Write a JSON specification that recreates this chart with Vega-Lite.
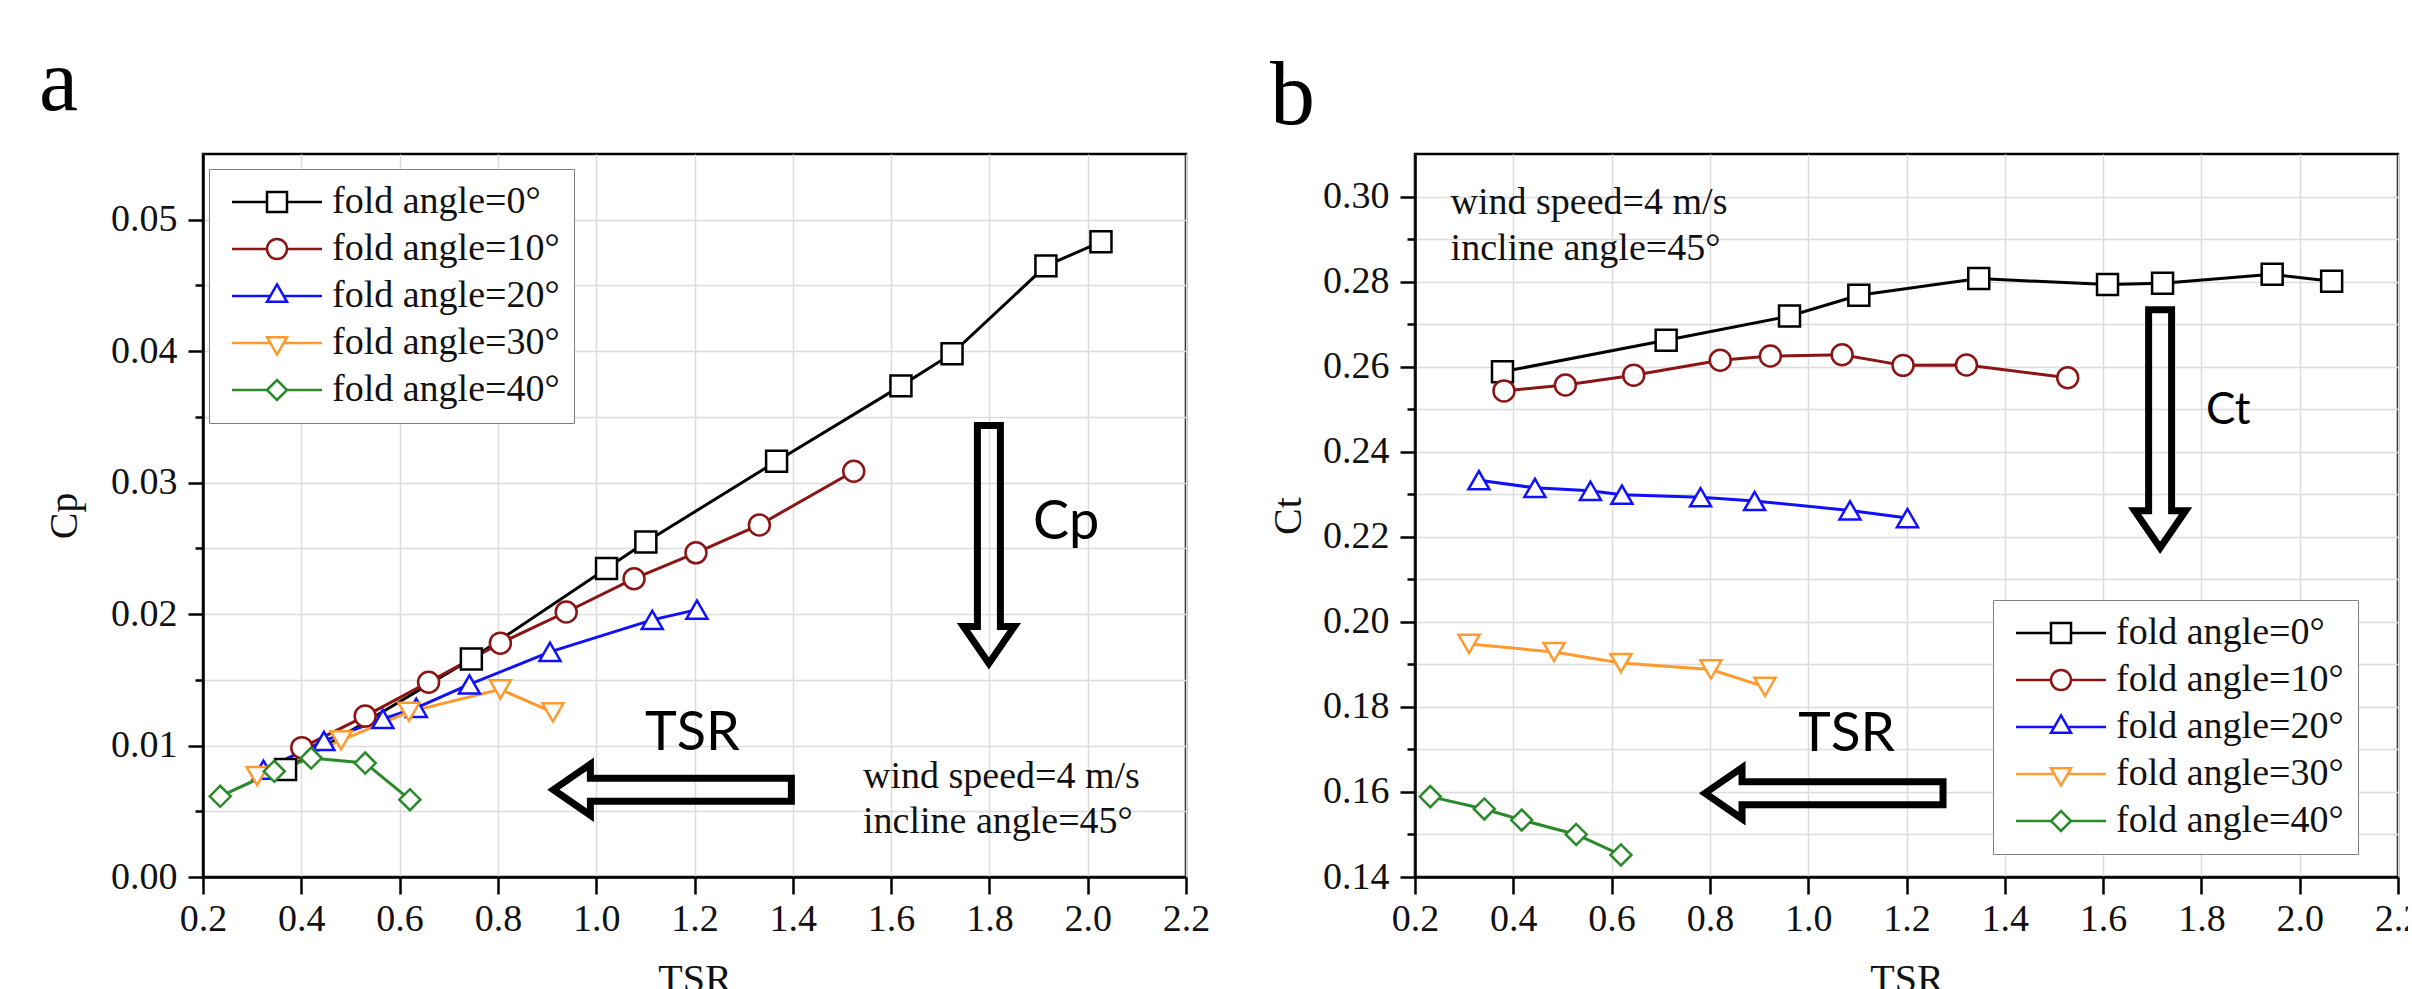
{
  "$schema": "https://vega.github.io/schema/vega-lite/v6.json",
  "background": "white",
  "padding": {"left": 37, "top": 38, "right": -15, "bottom": -10},
  "datasets": {
    "cp": [
      {"series": "fold angle=0°", "tsr": 0.368, "cp": 0.00817},
      {"series": "fold angle=0°", "tsr": 0.746, "cp": 0.01659},
      {"series": "fold angle=0°", "tsr": 1.021, "cp": 0.02346},
      {"series": "fold angle=0°", "tsr": 1.101, "cp": 0.02548},
      {"series": "fold angle=0°", "tsr": 1.367, "cp": 0.03163},
      {"series": "fold angle=0°", "tsr": 1.62, "cp": 0.03736},
      {"series": "fold angle=0°", "tsr": 1.724, "cp": 0.03981},
      {"series": "fold angle=0°", "tsr": 1.915, "cp": 0.04649},
      {"series": "fold angle=0°", "tsr": 2.027, "cp": 0.04832},
      {"series": "fold angle=10°", "tsr": 0.401, "cp": 0.00984},
      {"series": "fold angle=10°", "tsr": 0.53, "cp": 0.01224},
      {"series": "fold angle=10°", "tsr": 0.659, "cp": 0.01482},
      {"series": "fold angle=10°", "tsr": 0.805, "cp": 0.01779},
      {"series": "fold angle=10°", "tsr": 0.939, "cp": 0.02016},
      {"series": "fold angle=10°", "tsr": 1.077, "cp": 0.02269},
      {"series": "fold angle=10°", "tsr": 1.203, "cp": 0.02466},
      {"series": "fold angle=10°", "tsr": 1.332, "cp": 0.02678},
      {"series": "fold angle=10°", "tsr": 1.524, "cp": 0.03087},
      {"series": "fold angle=20°", "tsr": 0.323, "cp": 0.00816},
      {"series": "fold angle=20°", "tsr": 0.446, "cp": 0.01035},
      {"series": "fold angle=20°", "tsr": 0.566, "cp": 0.01202},
      {"series": "fold angle=20°", "tsr": 0.634, "cp": 0.01287},
      {"series": "fold angle=20°", "tsr": 0.742, "cp": 0.01465},
      {"series": "fold angle=20°", "tsr": 0.906, "cp": 0.01713},
      {"series": "fold angle=20°", "tsr": 1.114, "cp": 0.01956},
      {"series": "fold angle=20°", "tsr": 1.205, "cp": 0.02034},
      {"series": "fold angle=30°", "tsr": 0.31, "cp": 0.00768},
      {"series": "fold angle=30°", "tsr": 0.481, "cp": 0.0104},
      {"series": "fold angle=30°", "tsr": 0.619, "cp": 0.01256},
      {"series": "fold angle=30°", "tsr": 0.805, "cp": 0.01427},
      {"series": "fold angle=30°", "tsr": 0.912, "cp": 0.01252},
      {"series": "fold angle=40°", "tsr": 0.235, "cp": 0.00614},
      {"series": "fold angle=40°", "tsr": 0.345, "cp": 0.00804},
      {"series": "fold angle=40°", "tsr": 0.42, "cp": 0.00905},
      {"series": "fold angle=40°", "tsr": 0.53, "cp": 0.00867},
      {"series": "fold angle=40°", "tsr": 0.621, "cp": 0.00588}
    ],
    "ct": [
      {"series": "fold angle=0°", "tsr": 0.378, "ct": 0.2588},
      {"series": "fold angle=0°", "tsr": 0.711, "ct": 0.2662},
      {"series": "fold angle=0°", "tsr": 0.962, "ct": 0.2719},
      {"series": "fold angle=0°", "tsr": 1.103, "ct": 0.2768},
      {"series": "fold angle=0°", "tsr": 1.347, "ct": 0.2807},
      {"series": "fold angle=0°", "tsr": 1.609, "ct": 0.2793},
      {"series": "fold angle=0°", "tsr": 1.721, "ct": 0.2796},
      {"series": "fold angle=0°", "tsr": 1.944, "ct": 0.2817},
      {"series": "fold angle=0°", "tsr": 2.065, "ct": 0.2801},
      {"series": "fold angle=10°", "tsr": 0.381, "ct": 0.2543},
      {"series": "fold angle=10°", "tsr": 0.506, "ct": 0.2557},
      {"series": "fold angle=10°", "tsr": 0.645, "ct": 0.258},
      {"series": "fold angle=10°", "tsr": 0.821, "ct": 0.2615},
      {"series": "fold angle=10°", "tsr": 0.923, "ct": 0.2625},
      {"series": "fold angle=10°", "tsr": 1.069, "ct": 0.2628},
      {"series": "fold angle=10°", "tsr": 1.193, "ct": 0.2603},
      {"series": "fold angle=10°", "tsr": 1.322, "ct": 0.2604},
      {"series": "fold angle=10°", "tsr": 1.528, "ct": 0.2574},
      {"series": "fold angle=20°", "tsr": 0.33, "ct": 0.2333},
      {"series": "fold angle=20°", "tsr": 0.444, "ct": 0.2315},
      {"series": "fold angle=20°", "tsr": 0.557, "ct": 0.2308},
      {"series": "fold angle=20°", "tsr": 0.621, "ct": 0.2299},
      {"series": "fold angle=20°", "tsr": 0.781, "ct": 0.2293},
      {"series": "fold angle=20°", "tsr": 0.891, "ct": 0.2284},
      {"series": "fold angle=20°", "tsr": 1.085, "ct": 0.2262},
      {"series": "fold angle=20°", "tsr": 1.202, "ct": 0.2244},
      {"series": "fold angle=30°", "tsr": 0.31, "ct": 0.1948},
      {"series": "fold angle=30°", "tsr": 0.483, "ct": 0.1929},
      {"series": "fold angle=30°", "tsr": 0.619, "ct": 0.1903},
      {"series": "fold angle=30°", "tsr": 0.802, "ct": 0.1888},
      {"series": "fold angle=30°", "tsr": 0.912, "ct": 0.1847},
      {"series": "fold angle=40°", "tsr": 0.231, "ct": 0.1589},
      {"series": "fold angle=40°", "tsr": 0.341, "ct": 0.156},
      {"series": "fold angle=40°", "tsr": 0.417, "ct": 0.1534},
      {"series": "fold angle=40°", "tsr": 0.528, "ct": 0.15},
      {"series": "fold angle=40°", "tsr": 0.619, "ct": 0.1452}
    ],
    "noteA": [
      {"tsr": 1.5428, "cp": 0.00677, "label": "wind speed=4 m/s"},
      {"tsr": 1.5428, "cp": 0.00335, "label": "incline angle=45°"}
    ],
    "sansA": [
      {"tsr": 1.0993, "cp": 0.00968, "label": "TSR"},
      {"tsr": 1.8887, "cp": 0.02571, "label": "Cp"}
    ],
    "arrowA": [
      {"tsr": 1.799, "cp": 0.0253, "dir": "down"},
      {"tsr": 1.155, "cp": 0.00664, "dir": "left"}
    ],
    "noteB": [
      {"tsr": 0.2724, "ct": 0.2958, "label": "wind speed=4 m/s"},
      {"tsr": 0.2724, "ct": 0.2851, "label": "incline angle=45°"}
    ],
    "sansB": [
      {"tsr": 0.98, "ct": 0.1696, "label": "TSR"}
    ],
    "sansB2": [
      {"tsr": 1.8094, "ct": 0.2466, "label": "Ct"}
    ],
    "arrowB": [
      {"tsr": 1.716, "ct": 0.2454, "dir": "down"},
      {"tsr": 1.0322, "ct": 0.1597, "dir": "left"}
    ]
  },
  "hconcat": [
    {
      "width": 983,
      "height": 723,
      "title": {"text": "a", "anchor": "start", "frame": "group", "dx": -164, "offset": -44, "fontSize": 88, "font": "Liberation Serif", "fontWeight": "normal", "baseline": "alphabetic", "color": "black"},
      "resolve": {"scale": {"shape": "independent"}},
      "layer": [
        {
          "data": {"name": "cp"},
          "mark": {"type": "line", "strokeWidth": 3},
          "encoding": {
            "x": {"field": "tsr", "type": "quantitative", "scale": {"domain": [0.2, 2.2], "nice": false, "zero": false},
              "axis": {"title": "TSR", "values": [0.2, 0.4, 0.6, 0.8, 1.0, 1.2, 1.4, 1.6, 1.8, 2.0, 2.2], "format": ".1f", "tickSize": 17, "labelPadding": 6, "titlePadding": 21, "grid": true}},
            "y": {"field": "cp", "type": "quantitative", "scale": {"domain": [0, 0.055], "nice": false, "zero": false},
              "axis": {"title": "Cp", "titlePadding": 26, "grid": true, "labelPadding": 11,
                "values": [0, 0.005, 0.01, 0.015, 0.02, 0.025, 0.03, 0.035, 0.04, 0.045, 0.05],
                "labelExpr": "abs(datum.value*100 - round(datum.value*100)) < 0.001 ? format(datum.value, '.2f') : ''",
                "tickSize": {"condition": {"test": "abs(datum.value*100 - round(datum.value*100)) < 0.001", "value": 15}, "value": 8}}},
            "color": {"field": "series", "type": "nominal",
              "scale": {"domain": ["fold angle=0°", "fold angle=10°", "fold angle=20°", "fold angle=30°", "fold angle=40°"], "range": ["#000000", "#8b1414", "#1010ff", "#ff9a2e", "#2a8a2a"]},
              "legend": {"orient": "none", "legendX": 6, "legendY": 15, "title": null, "labelFont": "Liberation Serif", "labelFontSize": 38, "labelColor": "#111111", "labelLimit": 500,
                "symbolSize": 400, "symbolStrokeWidth": 2.5, "labelOffset": 71, "rowPadding": 9, "padding": 14, "strokeColor": "#808080", "fillColor": "white",
                "encoding": {"symbols": {
                  "fill": {"value": "white"},
                  "opacity": {"value": 1},
                  "shape": {"condition": [
                    {"test": "datum.value === 'fold angle=0°'", "value": "M-1,0H2.5M4.5,0H8M2.5,-1H4.5V1H2.5Z"},
                    {"test": "datum.value === 'fold angle=10°'", "value": "M-1,0H2.5M4.5,0H8M4.5,0A1,1,0,1,1,2.5,0A1,1,0,1,1,4.5,0Z"},
                    {"test": "datum.value === 'fold angle=20°'", "value": "M-1,0H2.833M4.167,0H8M3.5,-1.155L4.5,0.577L2.5,0.577Z"},
                    {"test": "datum.value === 'fold angle=30°'", "value": "M-1,0H2.833M4.167,0H8M3.5,1.155L4.5,-0.577L2.5,-0.577Z"}
                  ], "value": "M-1,0H2.5M4.5,0H8M2.5,0L3.5,-1L4.5,0L3.5,1Z"}
                }}}}
          }
        },
        {
          "data": {"name": "cp"},
          "mark": {"type": "point", "filled": true, "fill": "white", "strokeWidth": 2.5, "size": 440, "opacity": 1},
          "encoding": {
            "x": {"field": "tsr", "type": "quantitative"},
            "y": {"field": "cp", "type": "quantitative"},
            "stroke": {"field": "series", "type": "nominal",
              "scale": {"domain": ["fold angle=0°", "fold angle=10°", "fold angle=20°", "fold angle=30°", "fold angle=40°"], "range": ["#000000", "#8b1414", "#1010ff", "#ff9a2e", "#2a8a2a"]}, "legend": null},
            "shape": {"field": "series", "type": "nominal",
              "scale": {"domain": ["fold angle=0°", "fold angle=10°", "fold angle=20°", "fold angle=30°", "fold angle=40°"], "range": ["square", "circle", "triangle-up", "triangle-down", "diamond"]}, "legend": null}
          }
        },
        {
          "data": {"name": "arrowA"},
          "mark": {"type": "point", "filled": false, "stroke": "black", "strokeWidth": 7, "size": 56644, "opacity": 1, "strokeJoin": "miter", "strokeMiterLimit": 10},
          "encoding": {
            "x": {"field": "tsr", "type": "quantitative"},
            "y": {"field": "cp", "type": "quantitative"},
            "shape": {"field": "dir", "type": "nominal", "legend": null,
              "scale": {"domain": ["down", "left"], "range": ["M-0.0966,-1L0.0966,-1L0.0966,0.689L0.2143,0.689L0,1L-0.2143,0.689L-0.0966,0.689Z", "M1,-0.0966L1,0.0966L-0.689,0.0966L-0.689,0.2143L-1,0L-0.689,-0.2143L-0.689,-0.0966Z"]}}
          }
        },
        {
          "data": {"name": "noteA"},
          "mark": {"type": "text", "align": "left", "baseline": "alphabetic", "font": "Liberation Serif", "fontSize": 38, "color": "#111111"},
          "encoding": {
            "x": {"field": "tsr", "type": "quantitative"},
            "y": {"field": "cp", "type": "quantitative"},
            "text": {"field": "label", "type": "nominal"}
          }
        },
        {
          "data": {"name": "sansA"},
          "mark": {"type": "text", "align": "left", "baseline": "alphabetic", "font": "Lato", "fontSize": 54, "color": "black"},
          "encoding": {
            "x": {"field": "tsr", "type": "quantitative"},
            "y": {"field": "cp", "type": "quantitative"},
            "text": {"field": "label", "type": "nominal"}
          }
        }
      ]
    },
    {
      "width": 983,
      "height": 723,
      "title": {"text": "b", "anchor": "start", "frame": "group", "dx": -145, "offset": -60, "fontSize": 90, "font": "Liberation Serif", "fontWeight": "normal", "baseline": "alphabetic", "color": "black"},
      "resolve": {"scale": {"shape": "independent"}},
      "layer": [
        {
          "data": {"name": "ct"},
          "mark": {"type": "line", "strokeWidth": 3},
          "encoding": {
            "x": {"field": "tsr", "type": "quantitative", "scale": {"domain": [0.2, 2.2], "nice": false, "zero": false},
              "axis": {"title": "TSR", "values": [0.2, 0.4, 0.6, 0.8, 1.0, 1.2, 1.4, 1.6, 1.8, 2.0, 2.2], "format": ".1f", "tickSize": 17, "labelPadding": 6, "titlePadding": 21, "grid": true}},
            "y": {"field": "ct", "type": "quantitative", "scale": {"domain": [0.14, 0.31], "nice": false, "zero": false},
              "axis": {"title": "Ct", "titlePadding": 14, "grid": true, "labelPadding": 11,
                "values": [0.14, 0.15, 0.16, 0.17, 0.18, 0.19, 0.2, 0.21, 0.22, 0.23, 0.24, 0.25, 0.26, 0.27, 0.28, 0.29, 0.3],
                "labelExpr": "abs(datum.value*50 - round(datum.value*50)) < 0.001 ? format(datum.value, '.2f') : ''",
                "tickSize": {"condition": {"test": "abs(datum.value*50 - round(datum.value*50)) < 0.001", "value": 15}, "value": 8}}},
            "color": {"field": "series", "type": "nominal",
              "scale": {"domain": ["fold angle=0°", "fold angle=10°", "fold angle=20°", "fold angle=30°", "fold angle=40°"], "range": ["#000000", "#8b1414", "#1010ff", "#ff9a2e", "#2a8a2a"]},
              "legend": {"orient": "none", "legendX": 578, "legendY": 446, "title": null, "labelFont": "Liberation Serif", "labelFontSize": 38, "labelColor": "#111111", "labelLimit": 500,
                "symbolSize": 400, "symbolStrokeWidth": 2.5, "labelOffset": 71, "rowPadding": 9, "padding": 14, "strokeColor": "#808080", "fillColor": "white",
                "encoding": {"symbols": {
                  "fill": {"value": "white"},
                  "opacity": {"value": 1},
                  "shape": {"condition": [
                    {"test": "datum.value === 'fold angle=0°'", "value": "M-1,0H2.5M4.5,0H8M2.5,-1H4.5V1H2.5Z"},
                    {"test": "datum.value === 'fold angle=10°'", "value": "M-1,0H2.5M4.5,0H8M4.5,0A1,1,0,1,1,2.5,0A1,1,0,1,1,4.5,0Z"},
                    {"test": "datum.value === 'fold angle=20°'", "value": "M-1,0H2.833M4.167,0H8M3.5,-1.155L4.5,0.577L2.5,0.577Z"},
                    {"test": "datum.value === 'fold angle=30°'", "value": "M-1,0H2.833M4.167,0H8M3.5,1.155L4.5,-0.577L2.5,-0.577Z"}
                  ], "value": "M-1,0H2.5M4.5,0H8M2.5,0L3.5,-1L4.5,0L3.5,1Z"}
                }}}}
          }
        },
        {
          "data": {"name": "ct"},
          "mark": {"type": "point", "filled": true, "fill": "white", "strokeWidth": 2.5, "size": 440, "opacity": 1},
          "encoding": {
            "x": {"field": "tsr", "type": "quantitative"},
            "y": {"field": "ct", "type": "quantitative"},
            "stroke": {"field": "series", "type": "nominal",
              "scale": {"domain": ["fold angle=0°", "fold angle=10°", "fold angle=20°", "fold angle=30°", "fold angle=40°"], "range": ["#000000", "#8b1414", "#1010ff", "#ff9a2e", "#2a8a2a"]}, "legend": null},
            "shape": {"field": "series", "type": "nominal",
              "scale": {"domain": ["fold angle=0°", "fold angle=10°", "fold angle=20°", "fold angle=30°", "fold angle=40°"], "range": ["square", "circle", "triangle-up", "triangle-down", "diamond"]}, "legend": null}
          }
        },
        {
          "data": {"name": "arrowB"},
          "mark": {"type": "point", "filled": false, "stroke": "black", "strokeWidth": 7, "size": 56644, "opacity": 1, "strokeJoin": "miter", "strokeMiterLimit": 10},
          "encoding": {
            "x": {"field": "tsr", "type": "quantitative"},
            "y": {"field": "ct", "type": "quantitative"},
            "shape": {"field": "dir", "type": "nominal", "legend": null,
              "scale": {"domain": ["down", "left"], "range": ["M-0.0966,-1L0.0966,-1L0.0966,0.689L0.2143,0.689L0,1L-0.2143,0.689L-0.0966,0.689Z", "M1,-0.0966L1,0.0966L-0.689,0.0966L-0.689,0.2143L-1,0L-0.689,-0.2143L-0.689,-0.0966Z"]}}
          }
        },
        {
          "data": {"name": "noteB"},
          "mark": {"type": "text", "align": "left", "baseline": "alphabetic", "font": "Liberation Serif", "fontSize": 38, "color": "#111111"},
          "encoding": {
            "x": {"field": "tsr", "type": "quantitative"},
            "y": {"field": "ct", "type": "quantitative"},
            "text": {"field": "label", "type": "nominal"}
          }
        },
        {
          "data": {"name": "sansB"},
          "mark": {"type": "text", "align": "left", "baseline": "alphabetic", "font": "Lato", "fontSize": 55, "color": "black"},
          "encoding": {
            "x": {"field": "tsr", "type": "quantitative"},
            "y": {"field": "ct", "type": "quantitative"},
            "text": {"field": "label", "type": "nominal"}
          }
        },
        {
          "data": {"name": "sansB2"},
          "mark": {"type": "text", "align": "left", "baseline": "alphabetic", "font": "Lato", "fontSize": 44, "color": "black"},
          "encoding": {
            "x": {"field": "tsr", "type": "quantitative"},
            "y": {"field": "ct", "type": "quantitative"},
            "text": {"field": "label", "type": "nominal"}
          }
        }
      ]
    }
  ],
  "spacing": 229,
  "bounds": "flush",
  "resolve": {
    "scale": {"x": "independent", "y": "independent", "color": "independent", "stroke": "independent", "shape": "independent"},
    "legend": {"color": "independent"}
  },
  "config": {
    "view": {"stroke": "black", "strokeWidth": 2.5},
    "axis": {
      "labelFont": "Liberation Serif", "labelFontSize": 38, "labelColor": "#111111",
      "titleFont": "Liberation Serif", "titleFontSize": 40, "titleFontWeight": "normal", "titleColor": "#111111",
      "domainColor": "black", "domainWidth": 2.5, "tickColor": "black", "tickWidth": 2.5,
      "gridColor": "#dcdcdc", "gridWidth": 1.5, "labelOverlap": false, "labelFlush": false
    }
  }
}
